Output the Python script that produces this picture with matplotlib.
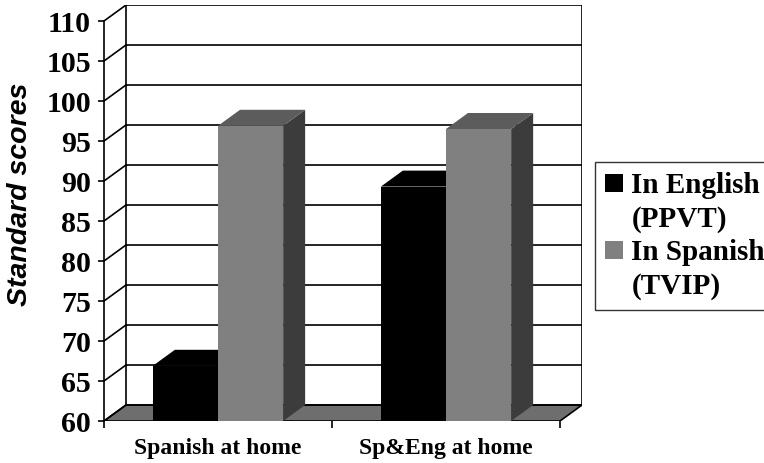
import matplotlib.pyplot as plt
from matplotlib.patches import Polygon, Patch

categories = ["Spanish at home", "Sp&Eng at home"]
english = [66.9, 89.3]
spanish = [96.9, 96.5]
legend_labels = ["In English", "(PPVT)", "In Spanish", "(TVIP)"]
yticks = [60, 65, 70, 75, 80, 85, 90, 95, 100, 105, 110]

ymin, ymax = 60, 110
dx = 22 / 228.0   # depth offset in category units
dy = 2.0          # depth offset in value units
bar_w = 1 / 3.5   # Excel gap width 150%

serif = "Liberation Serif"
sans = "Liberation Sans"

fig = plt.figure(figsize=(7.64, 4.63), dpi=100)
ax = fig.add_axes([104 / 764, 42 / 463, 478 / 764, 416 / 463])
ax.set_xlim(0, len(categories) + dx)
ax.set_ylim(ymin, ymax + dy)
for s in ax.spines.values():
    s.set_visible(False)

n = len(categories)
lw = 1.2

# floor
ax.add_patch(Polygon([(0, ymin), (n, ymin), (n + dx, ymin + dy), (dx, ymin + dy)],
                     closed=True, facecolor="#6e6e6e", edgecolor="black", lw=lw, zorder=1))

# back wall gridlines and side-wall diagonals
for v in yticks:
    ax.plot([dx, n + dx], [v + dy, v + dy], color="black", lw=lw, zorder=2)
    ax.plot([0, dx], [v, v + dy], color="black", lw=lw, zorder=2)
ax.plot([dx, dx], [ymin + dy, ymax + dy], color="black", lw=lw, zorder=2)
ax.plot([n + dx, n + dx], [ymin + dy, ymax + dy], color="black", lw=lw, zorder=2)
ax.plot([0, 0], [ymin, ymax], color="black", lw=lw, zorder=6, clip_on=False)


def bar3d(x0, v, front, top, side, z):
    x1 = x0 + bar_w
    ax.add_patch(Polygon([(x1, ymin), (x1 + dx, ymin + dy), (x1 + dx, v + dy), (x1, v)],
                         closed=True, facecolor=side, edgecolor="none", zorder=z))
    ax.add_patch(Polygon([(x0, v), (x1, v), (x1 + dx, v + dy), (x0 + dx, v + dy)],
                         closed=True, facecolor=top, edgecolor="none", zorder=z))
    ax.add_patch(Polygon([(x0, ymin), (x1, ymin), (x1, v), (x0, v)],
                         closed=True, facecolor=front, edgecolor="none", zorder=z))


z = 3
for i in range(n):
    bar3d(i + 0.75 * bar_w, english[i], "black", "black", "black", z)
    z += 1
    bar3d(i + 1.75 * bar_w, spanish[i], "#808080", "#5c5c5c", "#3c3c3c", z)
    z += 1

ax.set_yticks(yticks)
ax.set_yticklabels([str(t) for t in yticks], fontfamily=serif, fontweight="bold", fontsize=21.5)
ax.tick_params(axis="y", length=4.3, width=lw, pad=5)

ax.set_xticks(range(n + 1))
ax.set_xticklabels([])
ax.set_xticks([i + 0.5 for i in range(n)], minor=True)
ax.set_xticklabels(categories, minor=True, fontfamily=serif, fontweight="bold", fontsize=17)
ax.tick_params(axis="x", which="major", length=5, width=lw)
ax.tick_params(axis="x", which="minor", length=0, pad=12)

ax.set_ylabel("Standard scores", fontfamily=sans, fontweight="bold", fontstyle="italic", fontsize=20.5)
ax.yaxis.label.set_va("center")
ax.yaxis.set_label_coords(20 / 764, 1 - 194 / 463, transform=fig.transFigure)

handles = [Patch(facecolor="black", edgecolor="none"),
           Patch(facecolor="none", edgecolor="none"),
           Patch(facecolor="#808080", edgecolor="none"),
           Patch(facecolor="none", edgecolor="none")]
leg = fig.legend(handles, legend_labels, loc="upper left",
                 bbox_to_anchor=(595 / 764, 1 - 162 / 463),
                 prop={"family": serif, "weight": "bold", "size": 21},
                 frameon=True, fancybox=False, edgecolor="black",
                 handlelength=0.6, handleheight=0.6, handletextpad=0.3,
                 labelspacing=0.22, borderpad=0.35, borderaxespad=0)
leg.get_frame().set_linewidth(1.0)

fig.savefig("out.png", dpi=100)
